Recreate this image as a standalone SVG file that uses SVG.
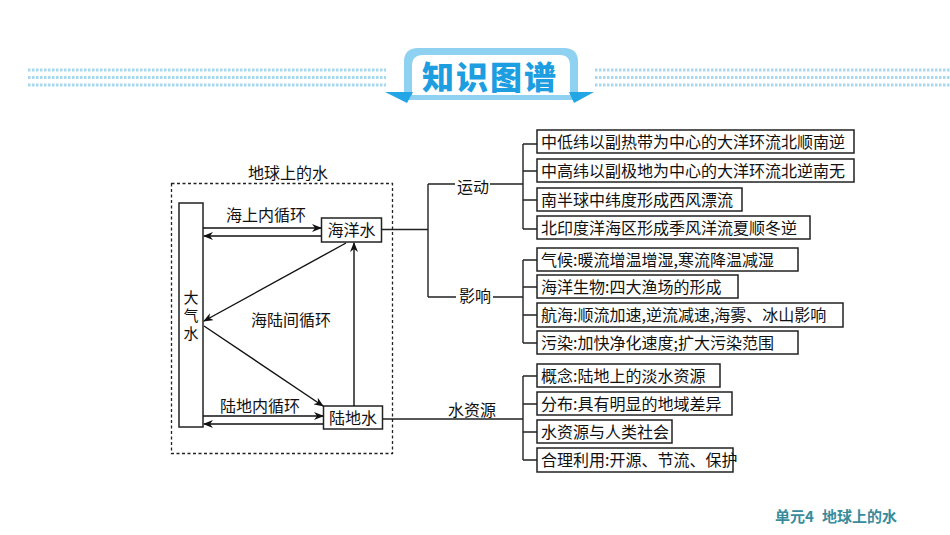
<svg xmlns="http://www.w3.org/2000/svg" width="950" height="535" viewBox="0 0 950 535">
<defs>
<marker id="ah" markerWidth="10" markerHeight="8" refX="9" refY="4" orient="auto" markerUnits="userSpaceOnUse">
<path d="M0,0 L10,4 L0,8 L3,4 Z" fill="#111"/>
</marker>
<style>
.t{font-family:"Noto Sans CJK SC","Noto Sans",sans-serif;font-size:16px;fill:#111;}
.box{fill:#fff;stroke:#222;stroke-width:1.5;}
.ln{fill:none;stroke:#222;stroke-width:1.4;}
.ar{fill:none;stroke:#111;stroke-width:1.4;marker-end:url(#ah);}
.dot{fill:none;stroke:#a6d8f0;stroke-width:3;stroke-dasharray:2.5 1.5;}
.c{text-anchor:middle;}
.ft{font-family:"Noto Sans CJK SC",sans-serif;font-size:15px;font-weight:bold;fill:#3a8c9c;}
</style>
</defs>
<rect width="950" height="535" fill="#fff"/>
<g id="banner">
<line class="dot" x1="28" y1="70" x2="386" y2="70"/>
<line class="dot" x1="28" y1="77.5" x2="386" y2="77.5"/>
<line class="dot" x1="28" y1="85" x2="386" y2="85"/>
<line class="dot" x1="595" y1="70" x2="950" y2="70"/>
<line class="dot" x1="595" y1="77.5" x2="950" y2="77.5"/>
<line class="dot" x1="595" y1="85" x2="950" y2="85"/>
<path d="M404,100 L404,62 Q404,48 418,48 L564,48 Q578,48 578,62 L578,100 Z" fill="#8fd1f1"/>
<path d="M412,95 L412,66 Q412,55 423,55 L560,55 Q570,55 570,66 L570,95 Z" fill="#fff"/>
<polygon points="385,92 413,92 407,103" fill="#23a6e6"/>
<polygon points="569,92 594,92 574,103" fill="#23a6e6"/>
<text x="490" y="89" class="c" style="font-family:'Noto Sans CJK SC',sans-serif;font-size:32px;font-weight:900;fill:#1d9ee0;letter-spacing:2px">知识图谱</text>
</g>
<g id="earth-water">
<text x="288" y="179" class="t c">地球上的水</text>
<rect x="171.5" y="183.5" width="221" height="270" fill="none" stroke="#222" stroke-width="1.3" stroke-dasharray="3 2.5"/>
</g>
<g id="atmo">
<rect class="box" x="179" y="203" width="24" height="224"/>
<text x="191" y="290" class="t" style="font-size:15px;writing-mode:vertical-rl;text-orientation:upright;letter-spacing:3px">大气水</text>
</g>
<g id="ocean">
<rect class="box" x="321.5" y="218" width="60" height="24"/>
<text x="351.5" y="236" class="t c">海洋水</text>
</g>
<g id="land">
<rect class="box" x="323.5" y="406" width="59" height="23"/>
<text x="353" y="423.5" class="t c">陆地水</text>
</g>
<g id="labels">
<text x="266" y="221" class="t c">海上内循环</text>
<text x="291" y="326" class="t c">海陆间循环</text>
<text x="260" y="412" class="t c">陆地内循环</text>
<text x="473" y="193" class="t c">运动</text>
<text x="475" y="302" class="t c">影响</text>
<text x="472" y="416" class="t c">水资源</text>
</g>
<g id="connectors">
<line class="ar" x1="203" y1="228" x2="321" y2="228"/>
<line class="ar" x1="321" y1="236" x2="204" y2="236"/>
<line class="ar" x1="203" y1="416" x2="323" y2="416"/>
<line class="ar" x1="323" y1="424" x2="204" y2="424"/>
<line class="ar" x1="346" y1="243" x2="204" y2="321"/>
<line class="ar" x1="204" y1="326" x2="323" y2="406"/>
<line class="ar" x1="354" y1="406" x2="354" y2="243"/>
<path class="ln" d="M382,229.5 H428 M428,184 V297 M428,184 H455 M490,184 H523 M428,297 H456 M493,297 H523 M383,419 H523"/>
<path class="ln" d="M523,144 V229 M523,144 H537 M523,171 H537 M523,200 H537 M523,229 H537"/>
<path class="ln" d="M523,260 V343 M523,260 H537 M523,287 H537 M523,315 H537 M523,343 H537"/>
<path class="ln" d="M523,376 V460 M523,376 H537 M523,404 H537 M523,432 H537 M523,460 H537"/>
</g>
<g id="n1"><rect class="box" x="537" y="130" width="317" height="23"/><text x="541" y="147.5" class="t">中低纬以副热带为中心的大洋环流北顺南逆</text></g>
<g id="n2"><rect class="box" x="537" y="159" width="317" height="23"/><text x="541" y="176.5" class="t">中高纬以副极地为中心的大洋环流北逆南无</text></g>
<g id="n3"><rect class="box" x="537" y="188" width="205" height="23"/><text x="541" y="205.5" class="t">南半球中纬度形成西风漂流</text></g>
<g id="n4"><rect class="box" x="537" y="216" width="273" height="23"/><text x="541" y="233.5" class="t">北印度洋海区形成季风洋流夏顺冬逆</text></g>
<g id="n5"><rect class="box" x="537" y="248" width="261" height="23"/><text x="541" y="265.5" class="t">气候:暖流增温增湿,寒流降温减湿</text></g>
<g id="n6"><rect class="box" x="537" y="275" width="201" height="23"/><text x="541" y="292.5" class="t">海洋生物:四大渔场的形成</text></g>
<g id="n7"><rect class="box" x="537" y="303" width="306" height="24"/><text x="541" y="320.5" class="t">航海:顺流加速,逆流减速,海雾、冰山影响</text></g>
<g id="n8"><rect class="box" x="537" y="331" width="261" height="23"/><text x="541" y="348.5" class="t">污染:加快净化速度;扩大污染范围</text></g>
<g id="n9"><rect class="box" x="537" y="364" width="183" height="23"/><text x="541" y="381.5" class="t">概念:陆地上的淡水资源</text></g>
<g id="n10"><rect class="box" x="537" y="392" width="195" height="23"/><text x="541" y="409.5" class="t">分布:具有明显的地域差异</text></g>
<g id="n11"><rect class="box" x="537" y="420" width="135" height="23"/><text x="541" y="437.5" class="t">水资源与人类社会</text></g>
<g id="n12"><rect class="box" x="537" y="448" width="196" height="24"/><text x="541" y="465.5" class="t">合理利用:开源、节流、保护</text></g>
<g id="footer">
<text x="775" y="522" class="ft">单元4</text>
<text x="822" y="522" class="ft">地球上的水</text>
</g>
</svg>
